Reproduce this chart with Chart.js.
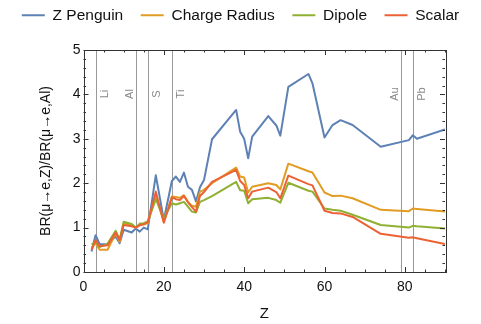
<!DOCTYPE html>
<html>
<head>
<meta charset="utf-8">
<script src="https://cdn.jsdelivr.net/npm/chart.js@4"></script>
<style>
  html, body { margin: 0; padding: 0; background: #fff; }
  #wrap { width: 481px; height: 324px; }
</style>
</head>
<body>
<div id="wrap"><canvas id="ratioChart"></canvas></div>
<script>
// Nilai, satu array per seri.
const zValues      = [2, 3, 4, 6, 8, 9, 10, 12, 13, 14, 15, 16, 18, 20, 22, 23, 24, 25, 26, 27, 28, 29, 30, 32, 38, 39, 40, 41, 42, 46, 48, 49, 51, 56, 57, 60, 62, 64, 67, 74, 81, 82, 83, 90];
const zPenguin     = [0.46, 0.83, 0.63, 0.62, 0.80, 0.65, 0.95, 0.89, 0.98, 0.91, 1.00, 0.96, 2.18, 1.17, 2.05, 2.15, 2.03, 2.24, 1.92, 1.85, 1.59, 1.91, 2.07, 2.99, 3.65, 3.16, 3.00, 2.56, 3.05, 3.51, 3.30, 3.07, 4.17, 4.46, 4.25, 3.03, 3.31, 3.42, 3.31, 2.82, 2.97, 3.08, 3.00, 3.21];
const chargeRadius = [0.55, 0.65, 0.50, 0.50, 0.87, 0.68, 1.10, 1.06, 1.00, 1.06, 1.07, 1.10, 1.70, 1.13, 1.70, 1.69, 1.67, 1.73, 1.58, 1.49, 1.47, 1.81, 1.85, 2.00, 2.35, 2.15, 2.13, 1.79, 1.92, 2.00, 1.96, 1.86, 2.44, 2.27, 2.24, 1.79, 1.71, 1.72, 1.66, 1.40, 1.37, 1.43, 1.42, 1.36];
const dipole       = [0.62, 0.68, 0.56, 0.64, 0.93, 0.73, 1.13, 1.08, 1.00, 1.09, 1.10, 1.14, 1.64, 1.21, 1.55, 1.52, 1.55, 1.58, 1.47, 1.36, 1.34, 1.58, 1.62, 1.71, 2.03, 1.84, 1.83, 1.55, 1.64, 1.67, 1.62, 1.56, 2.01, 1.83, 1.81, 1.43, 1.40, 1.38, 1.29, 1.06, 1.00, 1.04, 1.03, 0.98];
const scalar       = [0.50, 0.72, 0.58, 0.60, 0.89, 0.72, 1.06, 1.03, 1.00, 1.05, 1.08, 1.12, 1.81, 1.11, 1.68, 1.64, 1.62, 1.71, 1.57, 1.46, 1.36, 1.71, 1.80, 2.03, 2.30, 2.05, 1.96, 1.66, 1.81, 1.90, 1.80, 1.66, 2.17, 1.98, 1.95, 1.38, 1.33, 1.32, 1.24, 0.86, 0.77, 0.78, 0.76, 0.63];

// Garis vertikal unsur penanda.
const elementNames = ['Li', 'Al', 'S', 'Ti', 'Au', 'Pb'];
const elementZ     = [3, 13, 16, 22, 79, 82];
const elementSide  = ['right', 'left', 'right', 'right', 'left', 'right'];

const seriesNames  = ['Z Penguin', 'Charge Radius', 'Dipole', 'Scalar'];
const seriesValues = [zPenguin, chargeRadius, dipole, scalar];
const seriesColors = ['#5e81b5', '#e19c24', '#8fb032', '#eb6235'];

const FONT = "'Liberation Sans', Arial, sans-serif";

// Plugin: garis unsur di belakang kurva.
const elementLines = {
    id: 'elementLines',
    beforeDatasetsDraw(chart) {
        const { ctx, chartArea: a, scales: { x } } = chart;
        ctx.save();
        elementZ.forEach((z, i) => {
            const px = Math.round(x.getPixelForValue(z)) + 0.5;
            ctx.strokeStyle = '#999';
            ctx.lineWidth = 1;
            ctx.beginPath();
            ctx.moveTo(px, a.top);
            ctx.lineTo(px, a.bottom);
            ctx.stroke();

            ctx.save();
            const lx = elementSide[i] === 'right' ? px + 8 : px - 7;
            ctx.translate(lx, 94);
            ctx.rotate(-Math.PI / 2);
            ctx.fillStyle = '#888';
            ctx.font = '11px ' + FONT;
            ctx.textAlign = 'center';
            ctx.textBaseline = 'middle';
            ctx.fillText(elementNames[i], 0, 0);
            ctx.restore();
        });
        ctx.restore();
    }
};

// Plugin: bingkai dengan tick menghadap ke dalam.
const frameTicks = {
    id: 'frameTicks',
    afterDraw(chart) {
        const { ctx, chartArea: a, scales: { x, y } } = chart;
        ctx.save();
        ctx.strokeStyle = '#333';
        ctx.lineWidth = 1;
        ctx.strokeRect(Math.round(a.left) + 0.5, Math.round(a.top) + 0.5,
            Math.round(a.right - a.left), Math.round(a.bottom - a.top));
        ctx.beginPath();
        for (let v = 0; v <= 90; v += 5) {
            const px = Math.round(x.getPixelForValue(v)) + 0.5;
            const len = v % 20 === 0 ? 5 : 2.5;
            ctx.moveTo(px, a.bottom); ctx.lineTo(px, a.bottom - len);
            ctx.moveTo(px, a.top); ctx.lineTo(px, a.top + len);
        }
        for (let k = 0; k <= 25; k++) {
            const py = Math.round(y.getPixelForValue(k / 5)) + 0.5;
            const len = k % 5 === 0 ? 5 : 2.5;
            ctx.moveTo(a.left, py); ctx.lineTo(a.left + len, py);
            ctx.moveTo(a.right, py); ctx.lineTo(a.right - len, py);
        }
        ctx.stroke();
        ctx.restore();
    }
};

document.addEventListener('DOMContentLoaded', () => {
    const canvas = document.getElementById('ratioChart');

    const datasets = seriesNames.map((name, s) => ({
        label: name,
        data: zValues.map((z, i) => ({ x: z, y: seriesValues[s][i] })),
        borderColor: seriesColors[s],
        backgroundColor: seriesColors[s],
        borderWidth: 2,
        pointRadius: 0,
        tension: 0,
        borderJoinStyle: 'round',
        order: seriesNames.length - s
    }));

    new Chart(canvas.getContext('2d'), {
        type: 'line',
        data: { datasets },
        plugins: [elementLines, frameTicks],
        options: {
            responsive: true,
            maintainAspectRatio: false,
            animation: false,
            layout: { padding: { top: -10, right: 0, bottom: 0, left: 0 } },
            scales: {
                x: {
                    type: 'linear',
                    min: 0,
                    max: 90,
                    grid: { display: false, drawTicks: false },
                    border: { display: false },
                    ticks: {
                        stepSize: 20,
                        includeBounds: false,
                        padding: 7,
                        color: '#111',
                        font: { family: FONT, size: 14 }
                    },
                    title: {
                        display: true,
                        text: 'Z',
                        color: '#111',
                        padding: { top: 0, bottom: 1 },
                        font: { family: FONT, size: 15 }
                    },
                    afterFit: (scale) => { scale.height = 52; }
                },
                xTop: {
                    type: 'linear',
                    position: 'top',
                    min: 0,
                    max: 90,
                    grid: { display: false, drawTicks: false },
                    border: { display: false },
                    ticks: { display: false },
                    afterFit: (scale) => { scale.height = 17; }
                },
                y: {
                    min: 0,
                    max: 5,
                    grid: { display: false, drawTicks: false },
                    border: { display: false },
                    ticks: {
                        stepSize: 1,
                        padding: 3,
                        color: '#111',
                        font: { family: FONT, size: 14 }
                    },
                    title: {
                        display: true,
                        text: 'BR(\u03bc\u2192e,Z)/BR(\u03bc\u2192e,Al)',
                        color: '#111',
                        padding: { top: 38, bottom: 0 },
                        font: { family: FONT, size: 14 }
                    },
                    afterFit: (scale) => { scale.width = 83.5; }
                },
                yRight: {
                    position: 'right',
                    min: 0,
                    max: 5,
                    grid: { display: false, drawTicks: false },
                    border: { display: false },
                    ticks: { display: false },
                    afterFit: (scale) => { scale.width = 36; }
                }
            },
            plugins: {
                legend: {
                    position: 'top',
                    labels: {
                        boxWidth: 23,
                        boxHeight: 2,
                        padding: 17.5,
                        color: '#111',
                        font: { family: FONT, size: 15.5 },
                        // Kotak legenda dibuat menjadi garis tipis tanpa stroke.
                        generateLabels: (chart) => {
                            const items = Chart.defaults.plugins.legend.labels.generateLabels(chart);
                            return items.map(it => ({ ...it, lineWidth: 0, fillStyle: it.strokeStyle }));
                        },
                        sort: (a, b) => a.datasetIndex - b.datasetIndex
                    }
                },
                tooltip: { enabled: false }
            }
        }
    });
});
</script>
</body>
</html>
